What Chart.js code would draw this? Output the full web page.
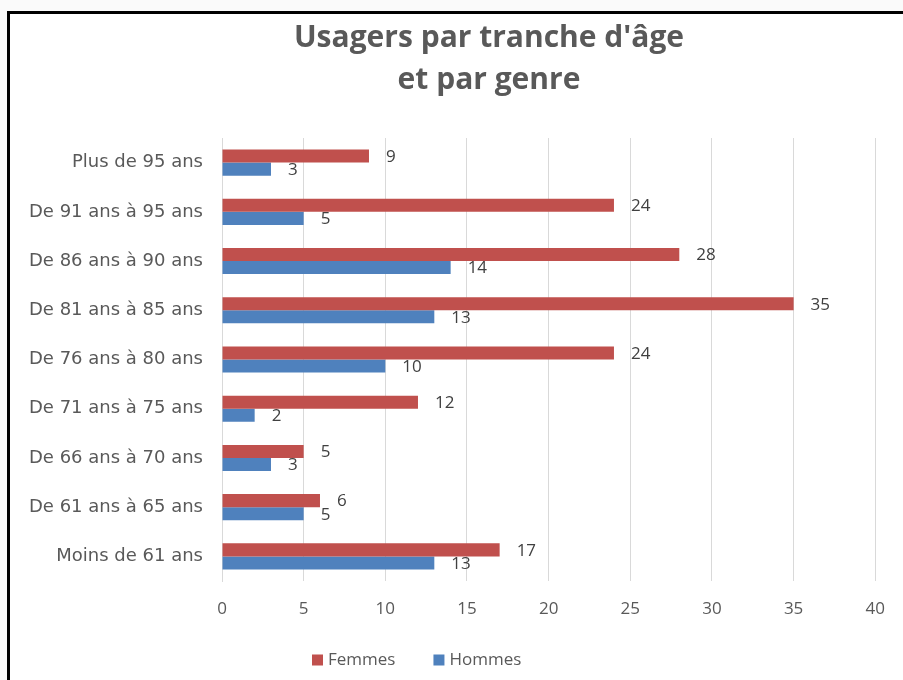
<!DOCTYPE html>
<html><head><meta charset="utf-8">
<script src="https://cdn.jsdelivr.net/npm/chart.js@4.4.0/dist/chart.umd.min.js"></script>
<style>
html,body{margin:0;padding:0;background:#fafafa;width:903px;height:680px;overflow:hidden}
#frame{position:absolute;left:7px;top:11px;width:896px;height:669px;border-left:3px solid #000;border-top:3px solid #000;background:#fff;box-sizing:border-box}
#c{position:absolute;left:10px;top:14px}
</style></head><body>
<div id="frame"></div>
<canvas id="c" width="893" height="666"></canvas>
<script>
const categories = ['Plus de 95 ans','De 91 ans à 95 ans','De 86 ans à 90 ans','De 81 ans à 85 ans','De 76 ans à 80 ans','De 71 ans à 75 ans','De 66 ans à 70 ans','De 61 ans à 65 ans','Moins de 61 ans'];
const femmes = [9,24,28,35,24,12,5,6,17];
const hommes = [3,5,14,13,10,2,3,5,13];
const seriesNames = ['Femmes','Hommes'];
const seriesColors = ['#C0504D','#4F81BD'];
const titleLines = ["Usagers par tranche d'âge", "et par genre"];
const xMin = 0, xMax = 40, xStep = 5;

const FONT = "'Open Sans', sans-serif";
const TXT = '#595959';

const valueLabels = {
  id: 'valueLabels',
  afterDatasetsDraw(chart) {
    const ctx = chart.ctx;
    ctx.save();
    ctx.font = '17px ' + FONT;
    ctx.fillStyle = '#404040';
    ctx.textAlign = 'left';
    ctx.textBaseline = 'middle';
    chart.data.datasets.forEach((ds, di) => {
      chart.getDatasetMeta(di).data.forEach((el, i) => {
        ctx.fillText(String(ds.data[i]), el.x + 17, el.y + 1);
      });
    });
    ctx.restore();
  }
};

const customLegend = {
  id: 'customLegend',
  afterDraw(chart) {
    const ctx = chart.ctx;
    ctx.save();
    ctx.font = '17px ' + FONT;
    ctx.textBaseline = 'middle';
    ctx.textAlign = 'left';
    let x = 302;
    const y = 646;
    chart.data.datasets.forEach(ds => {
      ctx.fillStyle = ds.backgroundColor;
      ctx.fillRect(x, y - 5.5, 11, 11);
      ctx.fillStyle = TXT;
      ctx.fillText(ds.label, x + 16, y);
      x += 16 + ctx.measureText(ds.label).width + 38;
    });
    ctx.restore();
  }
};

const shiftTitle = {
  id: 'shiftTitle',
  afterLayout(chart) {
    if (chart.titleBlock) { chart.titleBlock.left += 46; chart.titleBlock.right += 46; }
  }
};

new Chart(document.getElementById('c'), {
  type: 'bar',
  data: {
    labels: categories,
    datasets: [
      { label: seriesNames[0], data: femmes, backgroundColor: seriesColors[0] },
      { label: seriesNames[1], data: hommes, backgroundColor: seriesColors[1] }
    ]
  },
  options: {
    indexAxis: 'y',
    responsive: false,
    animation: false,
    events: [],
    categoryPercentage: 0.53,
    barPercentage: 1,
    layout: { padding: { top: 0, left: 0, right: 27, bottom: 59 } },
    plugins: {
      legend: { display: false },
      tooltip: { enabled: false },
      title: {
        display: true,
        text: titleLines,
        color: TXT,
        font: { family: FONT, size: 30, weight: 'bold', lineHeight: 1.4 },
        padding: { top: 3, bottom: 37 }
      }
    },
    scales: {
      x: {
        min: xMin, max: xMax,
        ticks: { stepSize: xStep, color: TXT, font: { family: FONT, size: 17 }, padding: 18 },
        grid: { color: '#d9d9d9', drawTicks: false },
        border: { display: false },
        afterFit(s) { s.height = 40; }
      },
      y: {
        ticks: { color: TXT, font: { family: "'DejaVu Sans', sans-serif", size: 18 }, padding: 11 },
        grid: { display: false },
        border: { color: '#d9d9d9' },
        afterFit(s) { s.width = 212; }
      }
    }
  },
  plugins: [valueLabels, customLegend, shiftTitle]
});
</script>
</body></html>
